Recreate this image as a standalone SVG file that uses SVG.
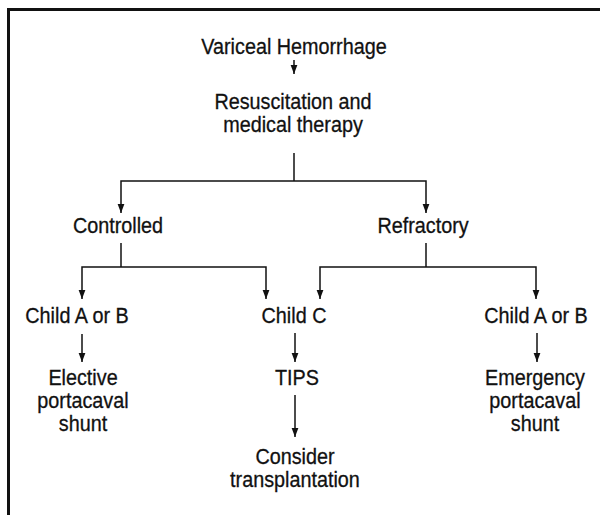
<svg xmlns="http://www.w3.org/2000/svg" width="600" height="515" viewBox="0 0 600 515">
<defs>
<marker id="arr" markerWidth="9" markerHeight="12" refX="12" refY="4.5" orient="auto" markerUnits="userSpaceOnUse" viewBox="0 0 12 9">
<path d="M0,0 L12,4.5 L0,9 Z" fill="#111"/>
</marker>
<style>
text{font-family:"Liberation Sans",Arial,sans-serif;font-size:22px;fill:#111;stroke:#111;stroke-width:0.3;text-anchor:middle}
.c line,.c polyline{stroke:#111;stroke-width:1.5;fill:none}
.a{marker-end:url(#arr)}
</style>
</defs>
<rect width="600" height="515" fill="#fff"/>
<path d="M8.5,515 V9.5 H600" fill="none" stroke="#111" stroke-width="3"/>
<g id="n-hemorrhage"><text transform="translate(294 54) scale(0.9 1)">Variceal Hemorrhage</text></g>
<g id="n-resus"><text transform="translate(293 109) scale(0.9 1)">Resuscitation and</text><text transform="translate(293 132) scale(0.9 1)">medical therapy</text></g>
<g id="n-controlled"><text transform="translate(118 233) scale(0.9 1)">Controlled</text></g>
<g id="n-refractory"><text transform="translate(423 233) scale(0.9 1)">Refractory</text></g>
<g id="n-childab-l"><text transform="translate(77 323) scale(0.9 1)">Child A or B</text></g>
<g id="n-childc"><text transform="translate(294 323) scale(0.9 1)">Child C</text></g>
<g id="n-childab-r"><text transform="translate(536 323) scale(0.9 1)">Child A or B</text></g>
<g id="n-elective"><text transform="translate(83 385) scale(0.9 1)">Elective</text><text transform="translate(83 408) scale(0.9 1)">portacaval</text><text transform="translate(83 431) scale(0.9 1)">shunt</text></g>
<g id="n-tips"><text transform="translate(297 385) scale(0.9 1)">TIPS</text></g>
<g id="n-emergency"><text transform="translate(535 385) scale(0.9 1)">Emergency</text><text transform="translate(535 408) scale(0.9 1)">portacaval</text><text transform="translate(535 431) scale(0.9 1)">shunt</text></g>
<g id="n-transplant"><text transform="translate(295 464) scale(0.9 1)">Consider</text><text transform="translate(295 487) scale(0.9 1)">transplantation</text></g>
<g class="c" id="connectors">
<line class="a" x1="294" y1="60" x2="294" y2="74"/>
<line x1="294" y1="153" x2="294" y2="181"/>
<polyline class="a" points="294,181 121,181 121,213"/>
<polyline class="a" points="294,181 426,181 426,213"/>
<line x1="121" y1="243" x2="121" y2="267"/>
<polyline class="a" points="121,267 82,267 82,299"/>
<polyline class="a" points="121,267 266,267 266,299"/>
<line x1="426" y1="243" x2="426" y2="267"/>
<polyline class="a" points="426,267 320,267 320,299"/>
<polyline class="a" points="426,267 536,267 536,299"/>
<line class="a" x1="82" y1="334" x2="82" y2="362"/>
<line class="a" x1="295" y1="333" x2="295" y2="362"/>
<line class="a" x1="537" y1="333" x2="537" y2="362"/>
<line class="a" x1="295" y1="395" x2="295" y2="437"/>
</g>
</svg>
